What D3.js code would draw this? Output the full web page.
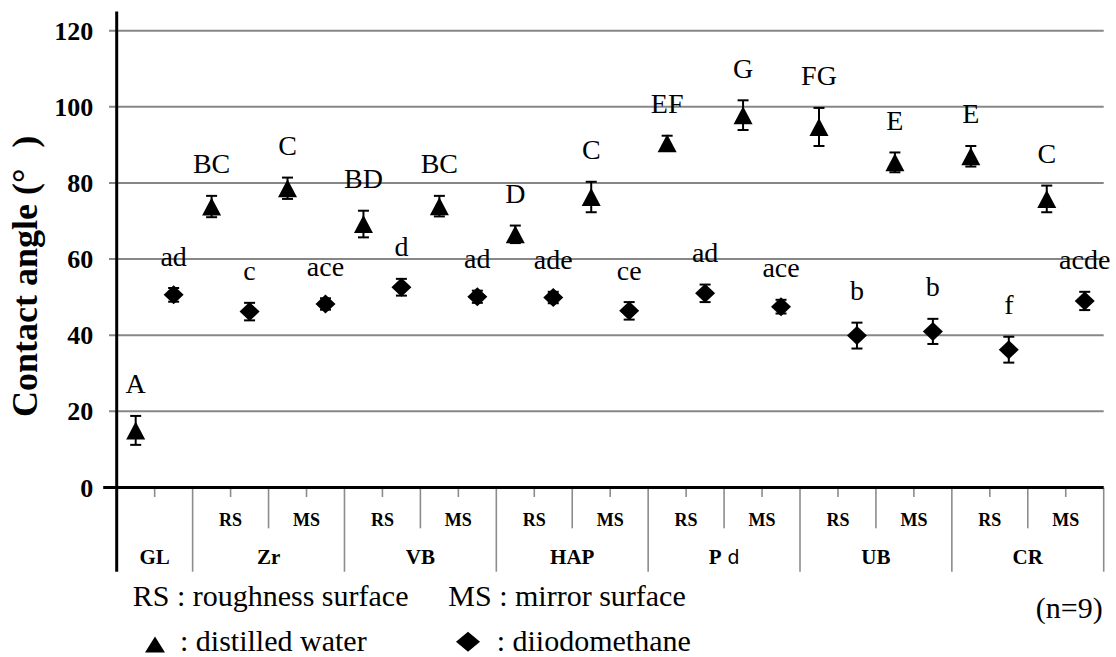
<!DOCTYPE html>
<html><head><meta charset="utf-8"><script src="https://cdn.jsdelivr.net/npm/d3@7"></script></head>
<body style="margin:0">
<svg id="chart" width="1116" height="657"></svg>
<script>
// ---------- data ----------
const categories = ["GL","Zr-RS","Zr-MS","VB-RS","VB-MS","HAP-RS","HAP-MS","Pd-RS","Pd-MS","UB-RS","UB-MS","CR-RS","CR-MS"];
const groupOf    = ["GL","Zr","Zr","VB","VB","HAP","HAP","Pd","Pd","UB","UB","CR","CR"];
const surfaceOf  = ["","RS","MS","RS","MS","RS","MS","RS","MS","RS","MS","RS","MS"];
const groups     = ["GL","Zr","VB","HAP","Pd","UB","CR"];

const waterMean    = [15.0, 73.8, 78.6, 69.2, 73.9, 66.5, 76.3, 90.4, 97.8, 94.7, 85.4, 87.0, 75.8];
const waterSD      = [3.8, 2.8, 2.8, 3.5, 2.7, 2.3, 4.0, 2.0, 3.9, 5.0, 2.6, 2.7, 3.5];
const waterLetters = ["A","BC","C","BD","BC","D","C","EF","G","FG","E","E","C"];

const diioMean     = [50.6, 46.2, 48.2, 52.6, 50.1, 49.9, 46.4, 51.0, 47.5, 39.9, 41.0, 36.2, 49.0];
const diioSD       = [1.8, 2.3, 1.5, 2.2, 1.6, 1.5, 2.3, 2.3, 1.8, 3.4, 3.3, 3.4, 2.4];
const diioLetters  = ["ad","c","ace","d","ad","ade","ce","ad","ace","b","b","f","acde"];

const yTicks = [0, 20, 40, 60, 80, 100, 120];

const SERIF = '"Liberation Serif"';
const svg = d3.select("#chart");
const pLeft = 116.7, pRight = 1103.7, pBottom = 487.5, pTop = 11.6;

const x = d3.scaleBand().domain(categories).range([pLeft, pRight]).padding(0);
const slot = d3.scaleBand().domain([0, 1]).range([0, x.bandwidth()]);
const y = d3.scaleLinear().domain([0, 125]).range([pBottom, pTop]);
const cx = (c, s) => x(c) + slot(s) + slot.bandwidth() / 2;

function txt(parent, xx, yy, s, size, opts) {
  opts = opts || {};
  return parent.append("text").attr("x", xx).attr("y", yy)
    .attr("font-family", SERIF).attr("font-size", size)
    .attr("font-weight", opts.bold ? "bold" : "normal")
    .attr("text-anchor", opts.anchor || "start")
    .attr("fill", "#000").text(s);
}

svg.append("rect").attr("width", 1116).attr("height", 657).attr("fill", "#fff");

// gridlines
svg.append("g").selectAll("line").data(yTicks.filter(t => t > 0)).join("line")
  .attr("x1", pLeft - 7.7).attr("x2", pRight)
  .attr("y1", d => y(d)).attr("y2", d => y(d))
  .attr("stroke", "#878787").attr("stroke-width", 2);

// y tick labels
const gy = svg.append("g");
yTicks.forEach(t => txt(gy, pLeft - 23.5, y(t) + 9, String(t), 26, { bold: true, anchor: "end" }));

// category axis separators
const sep = svg.append("g").attr("stroke", "#8c8c8c").attr("stroke-width", 1.6);
sep.selectAll("line.short").data(categories).join("line").attr("class", "short")
  .attr("x1", c => x(c) + slot(1)).attr("x2", c => x(c) + slot(1))
  .attr("y1", pBottom).attr("y2", pBottom + 9.5);
const mids = categories.filter((c, i) => i > 0 && groupOf[i] === groupOf[i - 1]);
sep.selectAll("line.mid").data(mids).join("line").attr("class", "mid")
  .attr("x1", c => x(c)).attr("x2", c => x(c))
  .attr("y1", pBottom).attr("y2", pBottom + 40.8);
const groupStarts = categories.filter((c, i) => i > 0 && groupOf[i] !== groupOf[i - 1]).map(c => x(c));
groupStarts.push(pRight);
sep.selectAll("line.long").data(groupStarts).join("line").attr("class", "long")
  .attr("x1", d => d).attr("x2", d => d)
  .attr("y1", pBottom).attr("y2", pBottom + 84.2);

// axes lines
svg.append("line").attr("x1", pLeft).attr("x2", pLeft).attr("y1", pTop).attr("y2", pBottom + 84.2)
  .attr("stroke", "#000").attr("stroke-width", 3);
svg.append("line").attr("x1", pLeft - 13.5).attr("x2", pRight).attr("y1", pBottom).attr("y2", pBottom)
  .attr("stroke", "#000").attr("stroke-width", 3);

// surface labels
const sl = svg.append("g");
categories.forEach((c, i) => {
  if (surfaceOf[i]) txt(sl, x(c) + x.bandwidth() / 2, 526, surfaceOf[i], 18, { bold: true, anchor: "middle" });
});

// group labels
const glg = svg.append("g");
groups.forEach(g => {
  const cs = categories.filter((c, i) => groupOf[i] === g);
  const gx = (x(cs[0]) + x(cs[cs.length - 1]) + x.bandwidth()) / 2;
  if (g === "Pd") {
    const t = txt(glg, gx, 564, "P", 21, { bold: true, anchor: "middle" });
    t.append("tspan").attr("font-family", '"DejaVu Sans"').attr("font-weight", "normal")
      .attr("font-size", 19).attr("dx", 6).text("d");
  } else txt(glg, gx, 564, g, 21, { bold: true, anchor: "middle" });
});

// y title
const title = svg.append("text")
  .attr("transform", "translate(37,417) rotate(-90)")
  .attr("font-family", SERIF).attr("font-weight", "bold").attr("font-size", 36);
title.append("tspan").text("Contact angle (°");
title.append("tspan").attr("dx", 21).text(")");

// ---------- series ----------
function errorBars(means, sds, s) {
  const g = svg.append("g").attr("stroke", "#000").attr("stroke-width", 2);
  categories.forEach((c, i) => {
    const xc = cx(c, s), y1 = y(means[i] + sds[i]), y2 = y(means[i] - sds[i]);
    g.append("line").attr("x1", xc).attr("x2", xc).attr("y1", y1).attr("y2", y2);
    g.append("line").attr("x1", xc - 5.5).attr("x2", xc + 5.5).attr("y1", y1).attr("y2", y1);
    g.append("line").attr("x1", xc - 5.5).attr("x2", xc + 5.5).attr("y1", y2).attr("y2", y2);
  });
}
errorBars(waterMean, waterSD, 0);
errorBars(diioMean, diioSD, 1);

const triPath = (px, py, w, h) => `M${px},${py - h / 2}L${px + w / 2},${py + h / 2}L${px - w / 2},${py + h / 2}Z`;
const diaPath = (px, py, w, h) => `M${px},${py - h / 2}L${px + w / 2},${py}L${px},${py + h / 2}L${px - w / 2},${py}Z`;

svg.append("g").selectAll("path").data(categories).join("path")
  .attr("d", (c, i) => triPath(cx(c, 0), y(waterMean[i]), 19, 18)).attr("fill", "#000");
svg.append("g").selectAll("path").data(categories).join("path")
  .attr("d", (c, i) => diaPath(cx(c, 1), y(diioMean[i]), 20, 19)).attr("fill", "#000");

// significance letters
const lg = svg.append("g");
categories.forEach((c, i) => {
  txt(lg, cx(c, 0), y(waterMean[i] + waterSD[i]) - 22.5, waterLetters[i], 28, { anchor: "middle" });
  txt(lg, cx(c, 1), y(diioMean[i] + diioSD[i]) - 22.5, diioLetters[i], 28, { anchor: "middle" });
});

// ---------- legend / notes ----------
const note = svg.append("g");
txt(note, 132.7, 606, "RS : roughness surface", 30);
txt(note, 448.3, 606, "MS : mirror surface", 30);
txt(note, 1102.7, 618, "(n=9)", 30, { anchor: "end" });
note.append("path").attr("d", triPath(155, 644.5, 20, 16)).attr("fill", "#000");
txt(note, 180, 651, ": distilled water", 30);
note.append("path").attr("d", diaPath(468, 641.7, 24, 20)).attr("fill", "#000");
txt(note, 496.7, 651, ": diiodomethane", 30);
</script>
</body>
</html>
